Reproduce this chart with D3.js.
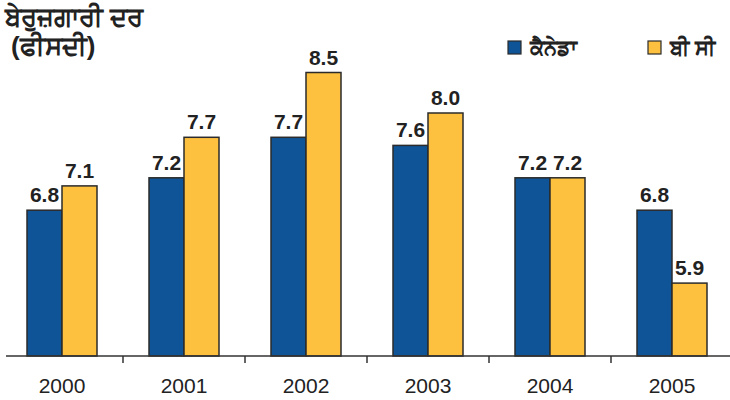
<!DOCTYPE html>
<html>
<head>
<meta charset="utf-8">
<script src="https://cdn.jsdelivr.net/npm/d3@7"></script>
<style>
  body { margin: 0; background: #fff; }
  svg { display: block; font-family: "Liberation Sans", Arial, sans-serif; }
</style>
</head>
<body>
<div id="chart"></div>
<script>
var years = ["2000", "2001", "2002", "2003", "2004", "2005"];
var canada = [6.8, 7.2, 7.7, 7.6, 7.2, 6.8];
var bc = [7.1, 7.7, 8.5, 8.0, 7.2, 5.9];
var seriesNames = ["ਕੈਨੇਡਾ", "ਬੀ ਸੀ"];
var colors = ["#0f5496", "#fdc03f"];

var width = 730, height = 400;
var svg = d3.select("#chart").append("svg")
    .attr("width", width).attr("height", height);

var x = d3.scaleBand().domain(years).range([1, 733]);
var y = d3.scaleLinear().domain([5, 8.5]).range([356, 72.5]);
var barW = 35;

// bars
var series = [canada, bc];
series.forEach(function (vals, s) {
    svg.append("g").selectAll("rect")
        .data(vals).enter().append("rect")
        .attr("x", function (d, i) { return x(years[i]) + x.bandwidth() / 2 - barW + s * barW; })
        .attr("y", function (d) { return y(d); })
        .attr("width", barW)
        .attr("height", function (d) { return y(5) - y(d); })
        .attr("fill", colors[s])
        .attr("stroke", "#2b2b2b")
        .attr("stroke-width", 1.5);

    svg.append("g").selectAll("text")
        .data(vals).enter().append("text")
        .attr("x", function (d, i) { return x(years[i]) + x.bandwidth() / 2 - barW / 2 + s * barW; })
        .attr("y", function (d) { return y(d) - 8; })
        .attr("text-anchor", "middle")
        .attr("font-size", 21)
        .attr("font-weight", "bold")
        .attr("fill", "#222")
        .text(function (d) { return d.toFixed(1); });
});

// x axis
var axis = svg.append("g").attr("transform", "translate(0,356)");
axis.append("line")
    .attr("x1", 6).attr("x2", 730)
    .attr("stroke", "#333").attr("stroke-width", 1.5);
axis.selectAll(".tick")
    .data(years.slice(1)).enter().append("line")
    .attr("x1", function (d) { return x(d); })
    .attr("x2", function (d) { return x(d); })
    .attr("y1", 0).attr("y2", 7)
    .attr("stroke", "#333").attr("stroke-width", 1.5);
axis.selectAll("text")
    .data(years).enter().append("text")
    .attr("x", function (d) { return x(d) + x.bandwidth() / 2; })
    .attr("y", 37)
    .attr("text-anchor", "middle")
    .attr("font-size", 21)
    .attr("fill", "#222")
    .text(function (d) { return d; });

// title
svg.append("text").attr("x", 5).attr("y", 26)
    .attr("font-size", 26).attr("font-weight", "bold").attr("fill", "#222")
    .text("ਬੇਰੁਜ਼ਗਾਰੀ ਦਰ");
svg.append("text").attr("x", 11).attr("y", 55)
    .attr("font-size", 26).attr("font-weight", "bold").attr("fill", "#222")
    .text("(ਫੀਸਦੀ)");

// legend
var legendX = [508, 648];
seriesNames.forEach(function (name, s) {
    svg.append("rect")
        .attr("x", legendX[s]).attr("y", 41)
        .attr("width", 13).attr("height", 13)
        .attr("fill", colors[s])
        .attr("stroke", "#2b2b2b").attr("stroke-width", 1.2);
    svg.append("text")
        .attr("x", legendX[s] + 22).attr("y", 55)
        .attr("font-size", 21).attr("font-weight", "bold").attr("fill", "#222")
        .text(name);
});
</script>
</body>
</html>
